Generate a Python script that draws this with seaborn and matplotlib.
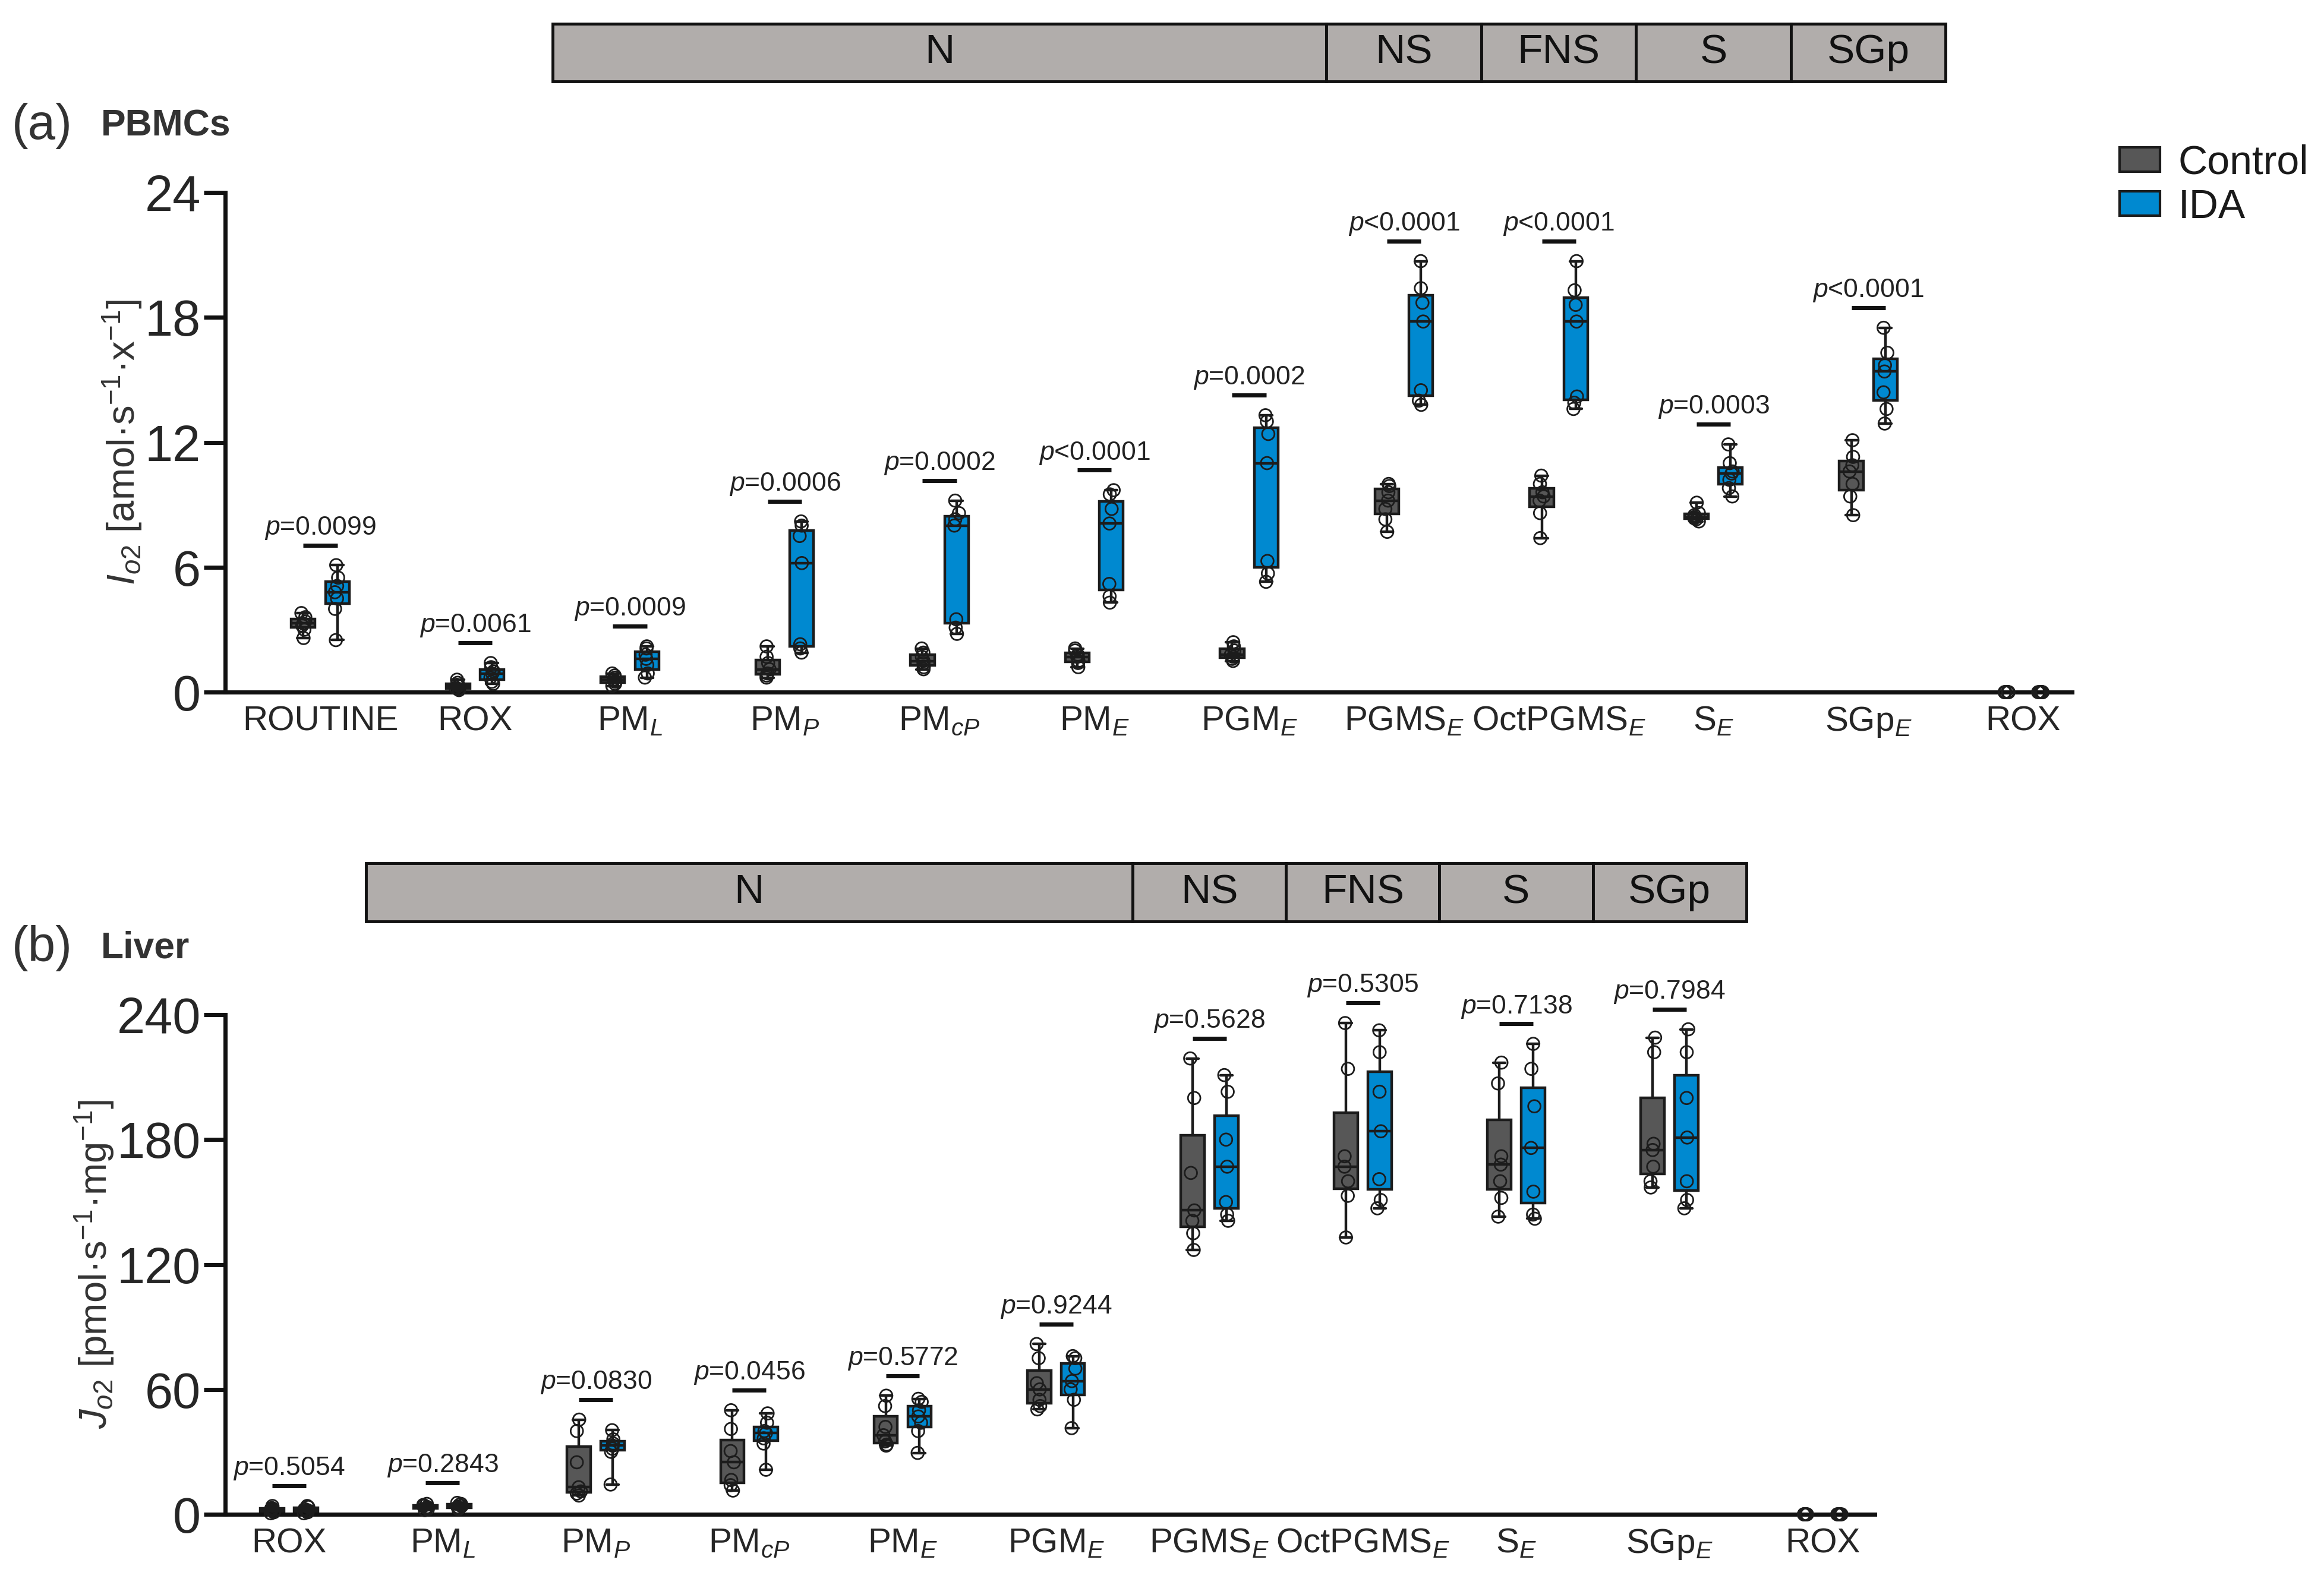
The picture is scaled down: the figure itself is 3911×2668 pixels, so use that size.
import numpy as np
import pandas as pd
import matplotlib
matplotlib.use("Agg")
import matplotlib.pyplot as plt
import matplotlib.transforms as mtransforms
from matplotlib.patches import Rectangle, Patch
import seaborn as sns

# ---- data ---------------------------------------------------------------
groups = ["Control", "IDA"]
colors = {"Control": "#575757", "IDA": "#0089d0"}

pbmc_keys = ["ROUTINE", "ROX", "PM_L", "PM_P", "PM_cP", "PM_E", "PGM_E",
             "PGMS_E", "OctPGMS_E", "S_E", "SGp_E", "ROX_end"]
pbmc_ticks = ["ROUTINE", "ROX", r"$\mathrm{PM}_{\mathit{L}}$", r"$\mathrm{PM}_{\mathit{P}}$",
              r"$\mathrm{PM}_{\mathit{cP}}$", r"$\mathrm{PM}_{\mathit{E}}$",
              r"$\mathrm{PGM}_{\mathit{E}}$", r"$\mathrm{PGMS}_{\mathit{E}}$",
              r"$\mathrm{OctPGMS}_{\mathit{E}}$", r"$\mathrm{S}_{\mathit{E}}$",
              r"$\mathrm{SGp}_{\mathit{E}}$", "ROX"]
pbmc_control = [
    [2.6, 3.0, 3.2, 3.3, 3.4, 3.6, 3.8],
    [0.1, 0.15, 0.2, 0.3, 0.35, 0.45, 0.6],
    [0.3, 0.4, 0.5, 0.6, 0.7, 0.8, 0.9],
    [0.7, 0.8, 0.9, 1.1, 1.4, 1.7, 2.2],
    [1.1, 1.2, 1.4, 1.5, 1.7, 1.9, 2.1],
    [1.2, 1.4, 1.5, 1.7, 1.8, 2.0, 2.1],
    [1.5, 1.6, 1.7, 1.8, 2.0, 2.2, 2.4],
    [7.7, 8.3, 8.8, 9.2, 9.6, 9.9, 10.0],
    [7.4, 8.6, 9.2, 9.4, 9.6, 10.0, 10.4],
    [8.2, 8.3, 8.35, 8.4, 8.5, 8.6, 9.1],
    [8.5, 9.4, 10.0, 10.6, 10.9, 11.3, 12.1],
    [0, 0, 0, 0, 0, 0, 0],
]
pbmc_ida = [
    [2.5, 4.0, 4.5, 4.8, 5.1, 5.5, 6.1],
    [0.4, 0.5, 0.7, 0.9, 1.0, 1.2, 1.4],
    [0.7, 0.9, 1.3, 1.6, 1.8, 2.1, 2.2],
    [1.9, 2.1, 2.3, 6.2, 7.5, 8.0, 8.2],
    [2.8, 3.1, 3.5, 8.0, 8.3, 8.6, 9.2],
    [4.3, 4.6, 5.2, 8.1, 8.8, 9.5, 9.7],
    [5.3, 5.7, 6.3, 11.0, 12.4, 13.0, 13.3],
    [13.8, 14.0, 14.5, 17.8, 18.7, 19.4, 20.7],
    [13.6, 13.9, 14.2, 17.8, 18.6, 19.3, 20.7],
    [9.4, 9.8, 10.2, 10.5, 10.6, 11.0, 11.9],
    [12.9, 13.6, 14.4, 15.4, 15.7, 16.3, 17.5],
    [0, 0, 0, 0, 0, 0, 0],
]
pbmc_p = ["=0.0099", "=0.0061", "=0.0009", "=0.0006", "=0.0002", "<0.0001",
          "=0.0002", "<0.0001", "<0.0001", "=0.0003", "<0.0001", None]

liver_keys = ["ROX", "PM_L", "PM_P", "PM_cP", "PM_E", "PGM_E",
              "PGMS_E", "OctPGMS_E", "S_E", "SGp_E", "ROX_end"]
liver_ticks = pbmc_ticks[1:]
liver_control = [
    [0.5, 1.0, 1.5, 2.0, 2.5, 3.0, 4.0],
    [2.0, 2.5, 3.0, 3.5, 4.0, 4.5, 5.0],
    [9.0, 10.0, 11.0, 13.0, 25.0, 40.0, 45.5],
    [11.4, 14.0, 16.5, 25.0, 30.4, 41.0, 50.0],
    [33.0, 33.5, 35.0, 38.0, 42.0, 52.0, 57.0],
    [50.4, 52.0, 55.0, 60.0, 63.0, 75.0, 81.8],
    [127, 135, 141, 146, 164, 200, 219],
    [133, 153, 160, 167, 172, 214, 236],
    [143, 152, 160, 168, 172, 207, 217],
    [157, 160, 167, 175, 178, 222, 229],
    [0, 0, 0, 0, 0, 0, 0],
]
liver_ida = [
    [0.5, 1.0, 1.5, 2.0, 2.5, 3.5, 4.0],
    [2.5, 3.0, 3.5, 4.0, 4.5, 5.0, 5.5],
    [14.3, 30.0, 31.5, 33.0, 34.0, 36.0, 40.4],
    [21.4, 34.0, 36.5, 39.0, 40.0, 44.0, 48.5],
    [29.5, 40.0, 44.0, 47.0, 50.0, 54.0, 55.5],
    [41.4, 55.0, 60.0, 64.0, 70.0, 75.0, 76.0],
    [141, 144, 150, 167, 180, 203, 211],
    [147, 151, 161, 184, 203, 222, 232.5],
    [142, 144, 155, 176, 196, 214, 226],
    [147, 151, 160, 181, 200, 222, 233],
    [0, 0, 0, 0, 0, 0, 0],
]
liver_p = ["=0.5054", "=0.2843", "=0.0830", "=0.0456", "=0.5772", "=0.9244",
           "=0.5628", "=0.5305", "=0.7138", "=0.7984", None]

# substrate-state bar on top: label, first category, last category
pbmc_bars = [("N", "PM_L", "PGM_E"), ("NS", "PGMS_E", "PGMS_E"),
             ("FNS", "OctPGMS_E", "OctPGMS_E"), ("S", "S_E", "S_E"),
             ("SGp", "SGp_E", "SGp_E")]
liver_bars = [("N", "PM_L", "PGM_E"), ("NS", "PGMS_E", "PGMS_E"),
              ("FNS", "OctPGMS_E", "OctPGMS_E"), ("S", "S_E", "S_E"),
              ("SGp", "SGp_E", "SGp_E")]

# ---- style --------------------------------------------------------------
sns.set_style("ticks")
plt.rcParams["font.family"] = ["Liberation Sans", "DejaVu Sans"]
plt.rcParams["mathtext.fontset"] = "custom"
plt.rcParams["mathtext.rm"] = "Liberation Sans"
plt.rcParams["mathtext.it"] = "Liberation Sans:italic"
plt.rcParams["mathtext.bf"] = "Liberation Sans:bold"
plt.rcParams["text.color"] = "#1a1a1a"
np.random.seed(3)

EDGE = "#1c1c1c"


def long_table(keys, control, ida):
    rows = []
    for key, c_vals, i_vals in zip(keys, control, ida):
        rows += [(key, "Control", v) for v in c_vals]
        rows += [(key, "IDA", v) for v in i_vals]
    return pd.DataFrame(rows, columns=["state", "group", "value"])


def draw_panel(ax, keys, ticks, control, ida, pvals, ymax, bars, bar_y, xlim, ylabel, ylab_x):
    df = long_table(keys, control, ida)
    sns.boxplot(data=df, x="state", y="value", hue="group", order=keys, hue_order=groups,
                palette=colors, saturation=1, width=0.44, gap=0.3, whis=(0, 100),
                linecolor=EDGE, linewidth=3.2, fliersize=0, legend=False, ax=ax)
    n0 = len(ax.collections)
    sns.stripplot(data=df, x="state", y="value", hue="group", order=keys, hue_order=groups,
                  dodge=True, jitter=0.06, size=15, linewidth=2, edgecolor=EDGE,
                  palette=colors, legend=False, ax=ax, zorder=4)
    # hollow markers, pulled in to sit on the narrower boxes
    for coll in ax.collections[n0:]:
        coll.set_facecolor("none")
        off = coll.get_offsets().copy()
        if len(off):
            centre = np.round(off[:, 0])
            off[:, 0] = centre + (off[:, 0] - centre) * 0.55
            coll.set_offsets(off)
        coll.set_clip_on(False)

    # p-value annotations
    for i, p in enumerate(pvals):
        if p is None:
            continue
        top = max(max(control[i]), max(ida[i])) + 0.04 * ymax
        ax.plot([i - 0.11, i + 0.11], [top, top], color="#111111", lw=5,
                solid_capstyle="butt", zorder=5, clip_on=False)
        ax.annotate(r"$\mathit{p}$" + p, xy=(i, top), xytext=(0, 5),
                    textcoords="offset points", ha="center", va="bottom",
                    fontsize=32, color="#222222", annotation_clip=False)

    # state bar above the axes
    trans = mtransforms.blended_transform_factory(ax.transData, ax.transAxes)
    for label, first, last in bars:
        x0 = keys.index(first) - 0.5
        x1 = keys.index(last) + 0.5
        ax.add_patch(Rectangle((x0, bar_y[0]), x1 - x0, bar_y[1] - bar_y[0],
                               transform=trans, clip_on=False, facecolor="#b1adab",
                               edgecolor="#111111", lw=3.5))
        ax.text((x0 + x1) / 2, (bar_y[0] + bar_y[1]) / 2, label, transform=trans,
                ha="center", va="center", fontsize=50, color="#111111")

    ax.set_xlim(*xlim)
    ax.set_ylim(0, ymax)
    ax.set_yticks(np.linspace(0, ymax, 5))
    ax.set_xticks(range(len(keys)))
    ax.set_xticklabels(ticks)
    ax.set_xlabel("")
    ax.set_ylabel(ylabel, fontsize=47, color="#333333")
    ax.yaxis.set_label_coords(ylab_x, 0.5)
    sns.despine(ax=ax)
    for side in ["left", "bottom"]:
        ax.spines[side].set_linewidth(5)
        ax.spines[side].set_color("#111111")
    ax.tick_params(axis="y", length=26, width=5, labelsize=61, pad=4, color="#111111")
    ax.tick_params(axis="x", length=0, labelsize=42, pad=16)


fig = plt.figure(figsize=(39.11, 26.68), dpi=100)
ax_a = fig.add_axes([0.097, 0.5633, 0.7946, 0.3153])
ax_b = fig.add_axes([0.097, 0.0446, 0.7097, 0.3152])

draw_panel(ax_a, pbmc_keys, pbmc_ticks, pbmc_control, pbmc_ida, pbmc_p, 24,
           pbmc_bars, (1.2226, 1.338), (-0.613, 11.316),
           r"$\mathit{I}_{\mathit{o2}}$ [amol·s$^{-1}$·x$^{-1}$]", -0.044)
draw_panel(ax_b, liver_keys, liver_ticks, liver_control, liver_ida, liver_p, 240,
           liver_bars, (1.187, 1.303), (-0.415, 10.338),
           r"$\mathit{J}_{\mathit{o2}}$ [pmol·s$^{-1}$·mg$^{-1}$]", -0.066)

fig.text(0.005, 0.9205, "(a)", fontsize=60, va="center", color="#333333")
fig.text(0.0434, 0.9205, "PBMCs", fontsize=45, fontweight="bold", va="center", color="#333333")
fig.text(0.005, 0.4018, "(b)", fontsize=60, va="center", color="#333333")
fig.text(0.0434, 0.4018, "Liver", fontsize=45, fontweight="bold", va="center", color="#333333")

handles = [Patch(facecolor=colors[g], edgecolor=EDGE, linewidth=3) for g in groups]
fig.legend(handles, groups, loc="upper left", bbox_to_anchor=(0.912, 0.909),
           frameon=False, fontsize=49, handlelength=1.0, handleheight=0.55,
           handletextpad=0.45, labelspacing=0.15, borderpad=0, borderaxespad=0)

fig.savefig("out.png", dpi=100)
